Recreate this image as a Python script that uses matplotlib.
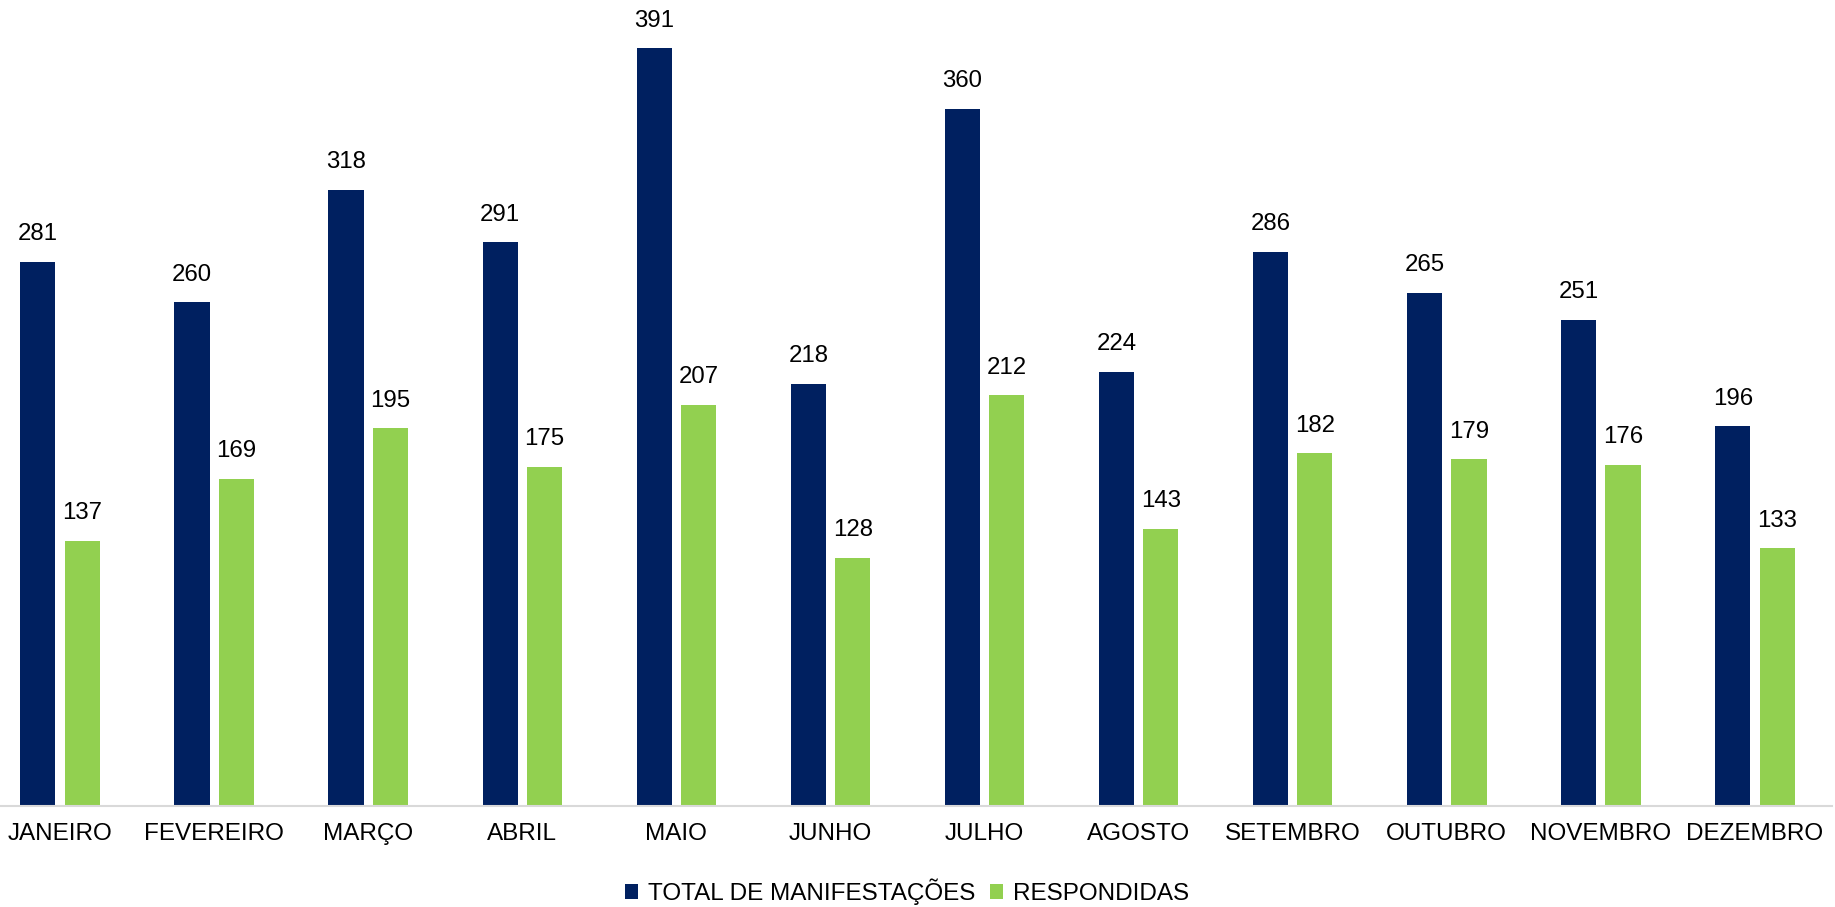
import matplotlib
matplotlib.use("Agg")
import matplotlib.pyplot as plt
import numpy as np

months = ["JANEIRO", "FEVEREIRO", "MARÇO", "ABRIL", "MAIO", "JUNHO",
          "JULHO", "AGOSTO", "SETEMBRO", "OUTUBRO", "NOVEMBRO", "DEZEMBRO"]
total = [281, 260, 318, 291, 391, 218, 360, 224, 286, 265, 251, 196]
respondidas = [137, 169, 195, 175, 207, 128, 212, 143, 182, 179, 176, 133]
series_names = ["TOTAL DE MANIFESTAÇÕES", "RESPONDIDAS"]

plt.rcParams['font.family'] = ['Liberation Sans', 'DejaVu Sans']

W, H = 1835, 907
fig = plt.figure(figsize=(W / 100, H / 100), dpi=100)
x0, x1 = -17, 1832
y0, y1 = 806, 0
ax = fig.add_axes([x0 / W, (H - y0) / H, (x1 - x0) / W, (y0 - y1) / H])

navy = "#002060"
green = "#92D050"
x = np.arange(len(months))
bw = 0.228
off = 0.144
b1 = ax.bar(x - off, total, bw, color=navy, label=series_names[0])
b2 = ax.bar(x + off, respondidas, bw, color=green, label=series_names[1])

for bars, vals in ((b1, total), (b2, respondidas)):
    for rect, v in zip(bars, vals):
        ax.annotate(str(v), (rect.get_x() + rect.get_width() / 2, rect.get_height()),
                    xytext=(0, 15.5), textcoords="offset points",
                    ha="center", va="baseline", fontsize=17.3, color="#000000")

ax.set_xlim(-0.5, len(months) - 0.5)
ax.set_ylim(0, 416)
ax.set_xticks(x)
ax.set_xticklabels(months, fontsize=17.5)
ax.tick_params(axis='x', length=0, pad=12.5)
ax.set_yticks([])
for s in ("top", "left", "right"):
    ax.spines[s].set_visible(False)
ax.spines["bottom"].set_color("#D9D9D9")
ax.spines["bottom"].set_linewidth(1.5)

leg = fig.legend(handles=[b1, b2], labels=series_names, loc="center",
                 bbox_to_anchor=(907 / W, 1 - 892 / H), ncol=2, frameon=False,
                 fontsize=17.5, handlelength=0.55, handleheight=0.55,
                 handletextpad=0.4, columnspacing=0.6)

fig.savefig("out.png", dpi=100)
